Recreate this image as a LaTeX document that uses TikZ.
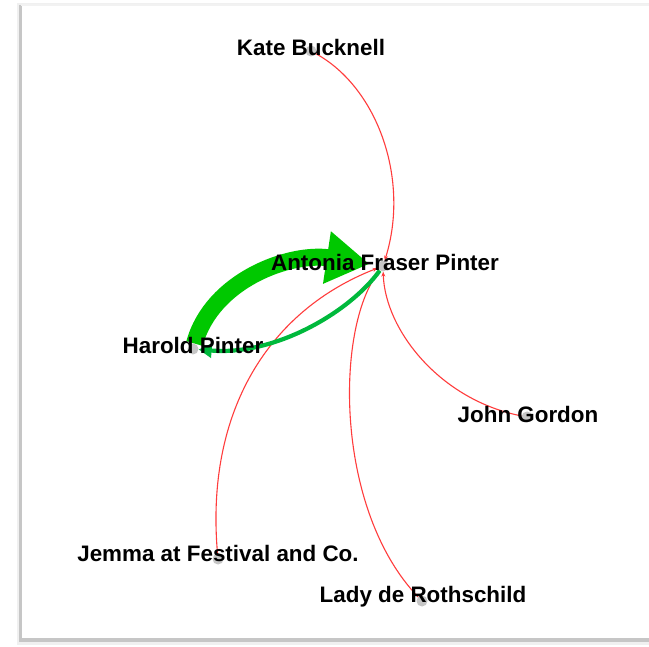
\documentclass[tikz,border=0pt]{standalone}
\usepackage{fontspec}
\setmainfont{Liberation Sans}
\usepackage{tikz}
\usetikzlibrary{arrows.meta,positioning,calc}

\definecolor{redlink}{RGB}{255,60,60}
\definecolor{greenbig}{RGB}{0,200,0}
\definecolor{greensmall}{RGB}{0,185,60}

\begin{document}
\begin{tikzpicture}[x=1pt, y=-1pt,
		pdot/.style={circle, fill=gray!45, minimum size=11pt, inner sep=0pt},
		plabel/.style={font=\fontsize{22.4}{25}\selectfont\bfseries, inner sep=0pt},
		redlink/.style={draw=redlink, line width=1.1pt, -{Stealth[length=5pt,width=4pt]}},
		biglink/.style={draw=greenbig, line width=17pt, -{Triangle[length=43pt,width=50pt]}, shorten >=8pt},
		smalllink/.style={draw=greensmall, line width=4.2pt, -{Triangle[length=13pt,width=14pt]}}]
	\useasboundingbox (0,0) rectangle (649,647);
	% panel with shadow
	\fill[gray!12] (17,3) rectangle (649,645);
	\fill[gray!45] (19,5) rectangle (649,642);
	\fill[gray!10] (21,4) rectangle (649,6);
	\fill[white] (22,6) rectangle (649,638);
	%
	\node[pdot] (kate) at (311,51) {};
	\node[pdot] (antonia) at (383,266) {};
	\node[pdot] (harold) at (193,349) {};
	\node[pdot] (john) at (527,417) {};
	\node[pdot] (jemma) at (218,559) {};
	\node[pdot] (lady) at (422,601) {};
	%
	\draw[redlink] (kate) .. controls (378,88) and (410,180) .. (antonia);
	\draw[redlink] (john) .. controls (440,400) and (385,330) .. (antonia);
	\draw[redlink] (lady) .. controls (335,510) and (335,330) .. (antonia);
	\draw[redlink] (jemma) .. controls (205,410) and (270,310) .. (antonia);
	%
	\draw[biglink] (harold) .. controls (212,280) and (290,252) .. (antonia);
	\draw[smalllink] (antonia) .. controls (350,312) and (275,356) .. (harold);
	%
	\node[plabel] (kate-t) at (311,47) {Kate Bucknell};
	\node[plabel] (antonia-t) at (385,262) {Antonia Fraser Pinter};
	\node[plabel] (harold-t) at (193,345) {Harold Pinter};
	\node[plabel] (john-t) at (528,414) {John Gordon};
	\node[plabel] (jemma-t) at (218,553) {Jemma at Festival and Co.};
	\node[plabel] (lady-t) at (423,597) {Lady de Rothschild};
\end{tikzpicture}
\end{document}
